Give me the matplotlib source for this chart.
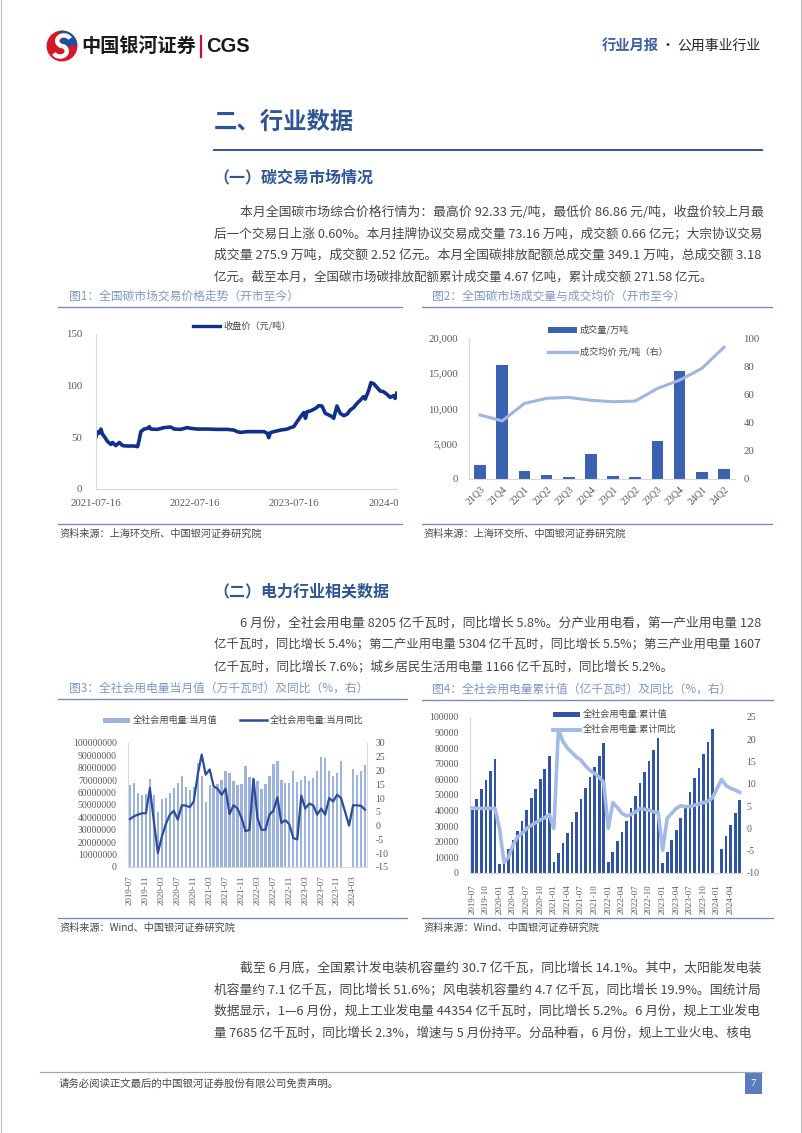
import numpy as np
import pandas as pd
import matplotlib
matplotlib.use("Agg")
import matplotlib.pyplot as plt
from matplotlib.lines import Line2D
from matplotlib.patches import Rectangle, Circle, Wedge, Arc
from matplotlib.ticker import FuncFormatter
from matplotlib.transforms import Bbox, TransformedBbox

W, H = 802, 1133
CJK = ["Noto Sans CJK SC", "DejaVu Sans"]
SERIF = ["Liberation Serif", "Noto Sans CJK SC"]
plt.rcParams["font.family"] = CJK
plt.rcParams["axes.unicode_minus"] = False

BODY = "#474747"
BLUE = "#2F5597"
CAP = "#7F96C9"
CAP_LINE = "#6D86C2"
TICK = "#595959"
AXLINE = "#D9D9D9"

# ---------------- data ----------------
# Fig 1: national carbon market closing price (yuan/t)
c1_dates = ["2021-07-16", "2021-07-22", "2021-07-28", "2021-08-03", "2021-08-09", "2021-08-16",
            "2021-08-28", "2021-09-09", "2021-09-15", "2021-09-27", "2021-10-10", "2021-10-22",
            "2021-11-09", "2021-12-04", "2021-12-16", "2021-12-22", "2021-12-28", "2022-01-09",
            "2022-01-22", "2022-01-28", "2022-02-03", "2022-02-27", "2022-03-24", "2022-04-17",
            "2022-04-30", "2022-05-24", "2022-06-17", "2022-06-30", "2022-07-24", "2022-08-30",
            "2022-10-06", "2022-11-11", "2022-12-06", "2022-12-18", "2022-12-30", "2023-01-24",
            "2023-03-01", "2023-03-26", "2023-04-07", "2023-04-13", "2023-04-19", "2023-05-02",
            "2023-05-26", "2023-06-20", "2023-07-02", "2023-07-14", "2023-07-26", "2023-08-08",
            "2023-08-20", "2023-08-26", "2023-09-01", "2023-09-13", "2023-10-02", "2023-10-14",
            "2023-10-26", "2023-11-07", "2023-11-20", "2023-12-02", "2023-12-08", "2023-12-20",
            "2024-01-01", "2024-01-14", "2024-01-26", "2024-02-07", "2024-02-19", "2024-03-03",
            "2024-03-15", "2024-03-27", "2024-04-02", "2024-04-14", "2024-04-23", "2024-05-03",
            "2024-05-15", "2024-05-27", "2024-06-08", "2024-06-21", "2024-07-03", "2024-07-15",
            "2024-07-21", "2024-07-27"]
c1_price = [50.6, 55.5, 54.0, 58.0, 53.0, 50.6, 45.8, 43.2, 45.0, 42.0, 45.0, 42.0,
            41.6, 41.6, 41.0, 47.4, 55.5, 58.0, 58.7, 60.3, 58.0, 57.7, 59.4, 60.0,
            58.0, 57.7, 59.4, 58.7, 58.0, 58.0, 57.7, 57.7, 57.0, 55.5, 54.8, 55.5,
            55.5, 55.5, 54.0, 49.7, 54.5, 55.5, 57.0, 58.0, 59.4, 60.3, 65.0, 70.0,
            73.9, 68.4, 74.8, 75.5, 78.0, 80.6, 80.3, 73.2, 71.6, 70.0, 68.4, 80.3,
            73.2, 71.0, 72.3, 76.5, 78.7, 82.9, 86.0, 89.4, 87.0, 94.8, 102.9, 102.0,
            98.4, 94.8, 94.2, 91.6, 88.7, 90.3, 87.7, 92.6]
c1_ticks = ["2021-07-16", "2022-07-16", "2023-07-16", "2024-07-16"]

# Fig 2: quarterly volume (10k t) and average price (yuan/t, right)
c2_quarters = ["21Q3", "21Q4", "22Q1", "22Q2", "22Q3", "22Q4",
               "23Q1", "23Q2", "23Q3", "23Q4", "24Q1", "24Q2"]
c2_volume = [1930, 16230, 1080, 560, 280, 3530, 470, 330, 5320, 15290, 940, 1460]
c2_avg_price = [45.4, 41.2, 53.6, 57.2, 57.9, 55.8, 54.8, 55.3, 64.2, 70.1, 78.4, 93.4]

# Fig 3 / Fig 4: monthly series 2019-07 .. 2024-06
months = pd.period_range("2019-07", "2024-06", freq="M").strftime("%Y-%m").tolist()
nan = np.nan
c3_month = [66.5, 67.5, 60.0, 58.0, 59.0, 71.0,
            58.0, 44.0, 55.0, 55.5, 59.5, 63.5, 68.0, 73.0, 64.5, 62.0, 64.5, 83.5,
            73.5, 52.5, 66.4, 63.5, 67.2, 70.4, 77.2, 75.8, 69.6, 65.9, 66.9, 81.2,
            72.3, 71.0, 69.6, 63.2, 67.2, 73.7, 83.1, 85.2, 70.4, 67.7, 67.7, 77.7,
            68.8, 69.9, 73.1, 69.1, 71.5, 77.2, 88.4, 87.9, 77.7, 73.7, 75.8, 85.2,
            nan, nan, 79.4, 74.1, 77.5, 82.0]  # million (x 10k kWh)
c3_yoy = [2.4, 3.4, 4.0, 4.5, 4.5, 13.7,
          1.5, -9.9, -4.0, 0.6, 4.0, 5.4, 2.2, 7.4, 7.3, 6.7, 8.8, 18.5,
          25.8, 18.5, 20.4, 14.3, 13.4, 11.2, 13.4, 4.2, 7.4, 6.2, 2.8, -2.0,
          -1.5, 17.0, 2.8, -1.5, -1.5, 4.0, 5.4, 10.3, 1.0, 2.0, 0.5, -4.5,
          -5.0, 10.9, 6.2, 8.0, 7.4, 4.0, 6.2, 4.0, 10.0, 8.8, 11.2, 10.0,
          5.0, 0.0, 7.4, 7.4, 7.2, 5.8]
c4_cum = [40400, 47400, 53600, 59600, 65400, 73100,
          5800, 10200, 15400, 21200, 26900, 33500, 40400, 47900, 54000, 60300, 66900, 75200,
          7300, 12600, 19200, 25600, 32500, 39300, 47400, 54700, 61500, 68200, 75000, 83300,
          6800, 13200, 20500, 26500, 33500, 41500, 49100, 57700, 65000, 71800, 78800, 86800,
          6600, 13700, 21200, 27600, 35500, 41900, 51700, 60700, 67500, 76100, 83800, 92300,
          nan, 15300, 23500, 30800, 38200, 47000]
c4_yoy = [4.6, 4.5, 4.5, 4.5, 4.5, 4.5,
          0.0, -7.6, -6.4, -3.7, -1.9, -1.1, 0.0, 0.7, 1.3, 1.9, 2.4, 3.1,
          0.0, 22.2, 19.5, 18.0, 17.0, 16.0, 15.3, 14.0, 13.0, 12.3, 11.5, 10.3,
          0.0, 5.8, 4.7, 3.4, 2.8, 3.1, 3.7, 4.5, 4.3, 4.1, 3.7, 3.6,
          -4.9, 2.3, 3.4, 4.5, 5.1, 4.9, 4.9, 5.2, 5.5, 5.8, 6.1, 6.9,
          nan, 11.0, 9.6, 9.0, 8.6, 8.1]

para1 = ["本月全国碳市场综合价格行情为：最高价 92.33 元/吨，最低价 86.86 元/吨，收盘价较上月最",
         "后一个交易日上涨 0.60%。本月挂牌协议交易成交量 73.16 万吨，成交额 0.66 亿元；大宗协议交易",
         "成交量 275.9 万吨，成交额 2.52 亿元。本月全国碳排放配额总成交量 349.1 万吨，总成交额 3.18",
         "亿元。截至本月，全国碳市场碳排放配额累计成交量 4.67 亿吨，累计成交额 271.58 亿元。"]
para2 = ["6 月份，全社会用电量 8205 亿千瓦时，同比增长 5.8%。分产业用电看，第一产业用电量 128",
         "亿千瓦时，同比增长 5.4%；第二产业用电量 5304 亿千瓦时，同比增长 5.5%；第三产业用电量 1607",
         "亿千瓦时，同比增长 7.6%；城乡居民生活用电量 1166 亿千瓦时，同比增长 5.2%。"]
para3 = ["截至 6 月底，全国累计发电装机容量约 30.7 亿千瓦，同比增长 14.1%。其中，太阳能发电装",
         "机容量约 7.1 亿千瓦，同比增长 51.6%；风电装机容量约 4.7 亿千瓦，同比增长 19.9%。国统计局",
         "数据显示，1—6 月份，规上工业发电量 44354 亿千瓦时，同比增长 5.2%。6 月份，规上工业发电",
         "量 7685 亿千瓦时，同比增长 2.3%，增速与 5 月份持平。分品种看，6 月份，规上工业火电、核电"]

# ---------------- page helpers (pixel coords, y from top) ----------------
fig = plt.figure(figsize=(W / 100, H / 100), dpi=100)
fig.patch.set_facecolor("white")
R = fig.canvas.get_renderer()


def box(x0, y0, x1, y1):
    return [x0 / W, 1 - y1 / H, (x1 - x0) / W, (y1 - y0) / H]


def txt(x, y, s, **kw):
    kw.setdefault("va", "center")
    return fig.text(x / W, 1 - y / H, s, **kw)


def hline(x0, x1, y, color, lw):
    fig.add_artist(Line2D([x0 / W, x1 / W], [1 - y / H, 1 - y / H], color=color, lw=lw))


def para(lines, y0, step, x_indent=240, x_left=214, x_right=762, size=9.0, justify_last=False):
    for k, s in enumerate(lines):
        x0 = x_indent if k == 0 else x_left
        t = txt(x0, y0 + k * step, s, fontsize=size, color=BODY, weight="light")
        if k < len(lines) - 1 or justify_last:
            w = t.get_window_extent(R).width
            t.set_fontsize(size * (x_right - x0) / w)


def leg_patch(x0, x1, y, h, color, label, size=6.6):
    fig.add_artist(Rectangle((x0 / W, 1 - (y + h / 2) / H), (x1 - x0) / W, h / H,
                             facecolor=color, edgecolor="none", transform=fig.transFigure))
    txt(x1 + 3, y, label, fontsize=size, color=BODY)


def leg_line(x0, x1, y, color, lw, label, size=6.6):
    hline(x0, x1, y, color, lw)
    txt(x1 + 3, y, label, fontsize=size, color=BODY)


def caption(x_text, x0, x1, y, s):
    txt(x_text, y, s, fontsize=8.5, color=CAP)
    hline(x0, x1, y + 10.5, CAP_LINE, 0.9)


def source(x_text, x0, x1, y, s):
    hline(x0, x1, y - 10.5, CAP_LINE, 0.9)
    txt(x_text, y, s, fontsize=7.3, color=BODY)


def base_style(ax, left=True):
    for name, sp in ax.spines.items():
        sp.set_visible(name == "bottom" or (name == "left" and left))
        sp.set_color(AXLINE)
        sp.set_linewidth(0.8)
    ax.tick_params(length=0, colors=TICK)
    ax.patch.set_alpha(0)


# ---------------- header / page frame ----------------
fig.add_artist(Line2D([0.6 / W, 0.6 / W], [0, 1], color="#BDBDBD", lw=0.8))
fig.add_artist(Line2D([1 - 0.6 / W, 1 - 0.6 / W], [0, 1], color="#BDBDBD", lw=0.8))

lg = fig.add_axes(box(45, 30, 79, 62))
lg.set_xlim(0, 1)
lg.set_ylim(0, 1)
lg.set_aspect("equal")
lg.axis("off")
lg.add_patch(Circle((0.5, 0.5), 0.46, color="#D6182A"))
lg.add_patch(Wedge((0.5, 0.5), 0.46, 5, 95, color="#1D4FA3"))
lg.add_patch(Arc((0.56, 0.66), 0.42, 0.34, theta1=20, theta2=250, color="white", lw=3.2))
lg.add_patch(Arc((0.44, 0.34), 0.42, 0.34, theta1=200, theta2=430, color="white", lw=3.2))

txt(81, 46, "中国银河证券", fontsize=13.8, weight="bold", color="#1A1A1A")
fig.add_artist(Line2D([201.5 / W, 201.5 / W], [1 - 36 / H, 1 - 57 / H], color="#C8102E", lw=1.6))
txt(206, 46, "CGS", fontsize=14.5, weight="bold", color="#1A1A1A", family=["Liberation Sans"])
txt(602, 46, "行业月报", fontsize=10.3, weight="bold", color="#3D5FA6")
txt(667, 46, "·", fontsize=10, color="#333333", ha="center")
txt(677, 46, "公用事业行业", fontsize=10, color="#262626")

# ---------------- section titles and text ----------------
txt(214, 122, "二、行业数据", fontsize=16.8, weight="bold", color=BLUE)
hline(214, 762, 150, BLUE, 1.4)
txt(213, 177, "（一）碳交易市场情况", fontsize=11.5, weight="bold", color=BLUE)
para(para1, 212, 21.7)

txt(213, 591, "（二）电力行业相关数据", fontsize=11.5, weight="bold", color=BLUE)
para(para2, 623, 21.8)
para(para3, 968, 21.8)

# captions and sources
caption(69, 58, 402, 296, "图1：全国碳市场交易价格走势（开市至今）")
caption(432, 422, 772, 296, "图2：全国碳市场成交量与成交均价（开市至今）")
source(59, 58, 402, 534, "资料来源：上海环交所、中国银河证券研究院")
source(423, 422, 772, 534, "资料来源：上海环交所、中国银河证券研究院")

caption(69, 58, 407, 688, "图3：全社会用电量当月值（万千瓦时）及同比（%，右）")
caption(432, 422, 773, 689, "图4：全社会用电量累计值（亿千瓦时）及同比（%，右）")
source(59, 58, 407, 928, "资料来源：Wind、中国银河证券研究院")
source(423, 422, 773, 928, "资料来源：Wind、中国银河证券研究院")

# footer
hline(40, 762, 1072, "#A6A6A6", 0.9)
txt(59, 1084, "请务必阅读正文最后的中国银河证券股份有限公司免责声明。", fontsize=7.5, color=BODY)
fig.add_artist(Rectangle((745 / W, 1 - 1094 / H), 17 / W, 22 / H, facecolor="#5B7BC0",
                         edgecolor="none", transform=fig.transFigure))
txt(753.5, 1083, "7", fontsize=8, color="white", ha="center", family=SERIF)

# ---------------- Fig 1 ----------------
ax1 = fig.add_axes(box(96, 334, 397, 489))
base_style(ax1)
d1 = pd.to_datetime(c1_dates)
ax1.plot(d1, c1_price, color="#10308C", lw=2.6, solid_joinstyle="round")
ax1.set_xlim(pd.Timestamp("2021-07-16"), pd.Timestamp("2024-07-28"))
ax1.set_ylim(0, 150)
ax1.set_yticks([0, 50, 100, 150])
ax1.set_xticks(pd.to_datetime(c1_ticks))
ax1.set_xticklabels(c1_ticks)
for lbl in ax1.get_yticklabels() + ax1.get_xticklabels():
    lbl.set_family(SERIF)
    lbl.set_fontsize(7.8)
ax1.tick_params(axis="y", pad=10)
ax1.tick_params(axis="x", pad=7)
clip = TransformedBbox(Bbox.from_extents(0, 0, 398 / W, 1), fig.transFigure)
for lbl in ax1.get_xticklabels():
    lbl.set_clip_box(clip)
    lbl.set_clip_on(True)
leg_line(193, 220, 326, "#10308C", 2.4, "收盘价（元/吨）")

# ---------------- Fig 2 ----------------
ax2 = fig.add_axes(box(469, 338, 735, 479))
base_style(ax2)
x2 = np.arange(len(c2_quarters))
ax2.bar(x2, c2_volume, width=0.53, color="#3A62B0", zorder=2)
ax2.set_xlim(-0.5, len(c2_quarters) - 0.5)
ax2.set_ylim(0, 20000)
ax2.set_yticks(np.arange(0, 20001, 5000))
ax2.yaxis.set_major_formatter(FuncFormatter(lambda v, p: f"{int(v):,}"))
ax2.set_xticks(x2)
ax2.set_xticklabels(c2_quarters, rotation=45, ha="right", va="top", rotation_mode="anchor")
ax2.tick_params(axis="y", pad=8)
ax2.tick_params(axis="x", pad=4)
ax2b = ax2.twinx()
base_style(ax2b, left=False)
ax2b.spines["bottom"].set_visible(False)
ax2b.plot(x2, c2_avg_price, color="#9FB6E2", lw=2.2, zorder=3)
ax2b.set_ylim(0, 100)
ax2b.set_yticks(np.arange(0, 101, 20))
ax2b.tick_params(axis="y", pad=6)
for a in (ax2, ax2b):
    for lbl in a.get_yticklabels() + a.get_xticklabels():
        lbl.set_family(SERIF)
        lbl.set_fontsize(7.8)
for lbl in ax2.get_xticklabels():
    lbl.set_fontsize(7.2)
leg_patch(548, 577, 330, 6.7, "#3A62B0", "成交量/万吨")
leg_line(548, 577, 352, "#9FB6E2", 2.4, "成交均价 元/吨（右）")

# ---------------- Fig 3 ----------------
ax3 = fig.add_axes(box(128, 743, 367, 867))
base_style(ax3)
ax3.spines["right"].set_visible(True)
ax3.spines["right"].set_color(AXLINE)
ax3.spines["right"].set_linewidth(0.8)
x3 = np.arange(len(months))
ax3.bar(x3, np.array(c3_month) * 1e6, width=0.58, color="#9CB3E0", zorder=2)
ax3.set_xlim(-0.5, len(months) - 0.5)
ax3.set_ylim(0, 1e8)
ax3.set_yticks(np.arange(0, 1e8 + 1, 1e7))
ax3.yaxis.set_major_formatter(FuncFormatter(lambda v, p: f"{int(round(v))}"))
ax3.set_xticks(x3[::4])
ax3.set_xticklabels(months[::4], rotation=90, ha="center", va="top")
ax3.tick_params(axis="y", pad=8)
ax3.tick_params(axis="x", pad=6)
ax3b = ax3.twinx()
base_style(ax3b, left=False)
ax3b.spines["bottom"].set_visible(False)
ax3b.plot(x3, c3_yoy, color="#2D4D9B", lw=1.6, zorder=3)
ax3b.set_ylim(-15, 30)
ax3b.set_yticks(np.arange(-15, 31, 5))
ax3b.tick_params(axis="y", pad=6)
for a in (ax3, ax3b):
    for lbl in a.get_yticklabels():
        lbl.set_family(SERIF)
        lbl.set_fontsize(7.0)
for lbl in ax3.get_xticklabels():
    lbl.set_family(SERIF)
    lbl.set_fontsize(6.5)
leg_patch(103, 130, 720, 5, "#9CB3E0", "全社会用电量:当月值")
leg_line(240, 267, 720, "#2D4D9B", 1.8, "全社会用电量:当月同比")

# ---------------- Fig 4 ----------------
ax4 = fig.add_axes(box(470, 717, 742, 873))
base_style(ax4)
x4 = np.arange(len(months))
ax4.bar(x4, c4_cum, width=0.58, color="#2F55A4", zorder=2)
ax4.set_xlim(-0.5, len(months) - 0.5)
ax4.set_ylim(0, 100000)
ax4.set_yticks(np.arange(0, 100001, 10000))
ax4.set_xticks(x4[::3])
ax4.set_xticklabels(months[::3], rotation=90, ha="center", va="top")
ax4.tick_params(axis="y", pad=8)
ax4.tick_params(axis="x", pad=8)
ax4b = ax4.twinx()
base_style(ax4b, left=False)
ax4b.spines["bottom"].set_visible(False)
yoy4 = np.array(c4_yoy)
ok = ~np.isnan(yoy4)
ax4b.plot(x4[ok], yoy4[ok], color="#A3B9E6", lw=2.6, zorder=3)
ax4b.set_ylim(-10, 25)
ax4b.set_yticks(np.arange(-10, 26, 5))
ax4b.tick_params(axis="y", pad=3)
for a in (ax4, ax4b):
    for lbl in a.get_yticklabels():
        lbl.set_family(SERIF)
        lbl.set_fontsize(7.0)
for lbl in ax4.get_xticklabels():
    lbl.set_family(SERIF)
    lbl.set_fontsize(6.5)
leg_patch(553, 580, 714.5, 5.7, "#2F55A4", "全社会用电量:累计值")
leg_line(553, 580, 729.5, "#A3B9E6", 2.8, "全社会用电量:累计同比")

fig.savefig("out.png", dpi=100, facecolor="white")
